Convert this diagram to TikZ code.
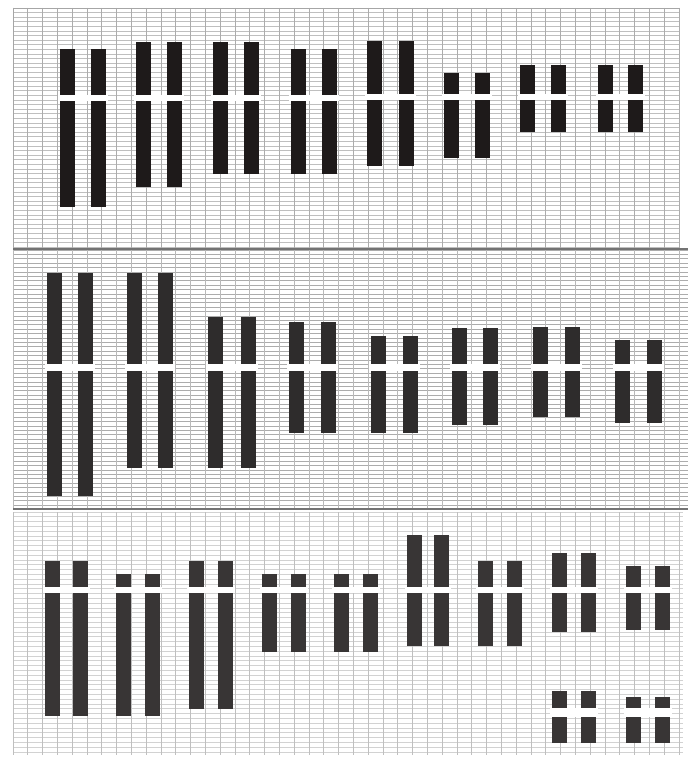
\documentclass[tikz,border=0pt]{standalone}
\usepackage{tikz}
\definecolor{chromA}{HTML}{1E1A1A}
\definecolor{chromB}{HTML}{2E2C2C}
\definecolor{chromC}{HTML}{383535}
\tikzset{
  hline/.style={line width=0.8pt},
  vline/.style={line width=0.9pt},
  sepline/.style={line width=1.2pt, black!55},
}
% #1 fill colour, #2 x of first, #3 x of second, #4 top, #5 gap top, #6 gap bottom, #7 bottom
\newcommand{\chpair}[7]{%
  \fill[white] (#2-2,#5) rectangle (#3+17,#6);
  \fill[#1] (#2,#4) rectangle (#2+15,#5);
  \fill[#1] (#2,#6) rectangle (#2+15,#7);
  \fill[#1] (#3,#4) rectangle (#3+15,#5);
  \fill[#1] (#3,#6) rectangle (#3+15,#7);
}
\begin{document}
\begin{tikzpicture}[x=1pt,y=-1pt]
\useasboundingbox[fill=white] (0,0) rectangle (696,760);
% ---------- panel 1 grid ----------
\foreach \y in {8,12.6,...,248} \draw[hline,gray!50] (13,\y) -- (680,\y);
\foreach \x in {13,27.8,...,680} \draw[vline,gray!65] (\x,8) -- (\x,248);
\draw[line width=0.8pt,gray!70] (13,8) -- (680,8);
\draw[line width=0.8pt,gray!70] (13,8) -- (13,248);
% ---------- panel 2 grid ----------
\foreach \y in {250,254.4,...,508} \draw[hline,gray!65] (13,\y) -- (688,\y);
\foreach \x in {13,27.8,...,688} \draw[vline,gray!55] (\x,250) -- (\x,508);
% ---------- panel 3 grid ----------
\foreach \y in {512,516.8,...,755} \draw[hline,gray!35] (13,\y) -- (683,\y);
\foreach \x in {13,27.8,...,683} \draw[vline,gray!50] (\x,512) -- (\x,755);
% separators
\draw[sepline] (13,249) -- (688,249);
\draw[sepline] (13,509) -- (688,509);
% ---------- panel 1 chromosomes ----------
\chpair{chromA}{60}{91}{49}{95}{101}{207}
\chpair{chromA}{136}{167}{42}{95}{101}{187}
\chpair{chromA}{213}{244}{42}{95}{101}{174}
\chpair{chromA}{291}{322}{49}{95}{101}{174}
\chpair{chromA}{367}{399}{41}{94}{100}{166}
\chpair{chromA}{444}{475}{73}{94}{100}{158}
\chpair{chromA}{520}{551}{65}{94}{100}{132}
\chpair{chromA}{598}{628}{65}{94}{100}{132}
% ---------- panel 2 chromosomes ----------
\chpair{chromB}{47}{78}{273}{364}{371}{496}
\chpair{chromB}{127}{158}{273}{364}{371}{468}
\chpair{chromB}{208}{241}{317}{364}{371}{468}
\chpair{chromB}{289}{321}{322}{364}{371}{433}
\chpair{chromB}{371}{403}{336}{364}{371}{433}
\chpair{chromB}{452}{483}{328}{364}{371}{425}
\chpair{chromB}{533}{565}{327}{364}{371}{417}
\chpair{chromB}{615}{647}{340}{364}{371}{423}
% ---------- panel 3 chromosomes ----------
\chpair{chromC}{45}{73}{561}{587}{593}{716}
\chpair{chromC}{116}{145}{574}{587}{593}{716}
\chpair{chromC}{189}{218}{561}{587}{593}{709}
\chpair{chromC}{262}{291}{574}{587}{593}{652}
\chpair{chromC}{334}{363}{574}{587}{593}{652}
\chpair{chromC}{407}{434}{535}{587}{593}{646}
\chpair{chromC}{478}{507}{561}{587}{593}{646}
\chpair{chromC}{552}{581}{553}{587}{593}{632}
\chpair{chromC}{626}{655}{566}{587}{593}{630}
\chpair{chromC}{552}{581}{691}{708}{717}{743}
\chpair{chromC}{626}{655}{697}{708}{717}{743}
\end{tikzpicture}
\end{document}
